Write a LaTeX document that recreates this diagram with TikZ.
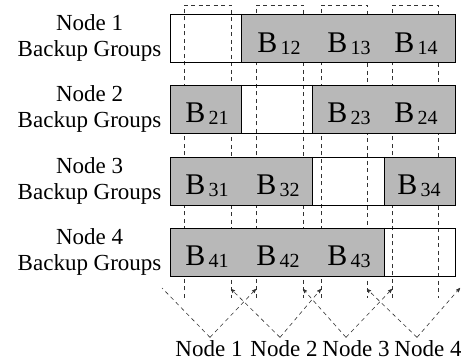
\documentclass[tikz,border=0pt]{standalone}
\usepackage{fontspec}
\setmainfont{Liberation Serif}
\usetikzlibrary{arrows,positioning}

\begin{document}
\begin{tikzpicture}[x=1pt,y=-1pt,>=stealth',
  grp/.style={draw=black, line width=0.8pt, fill=black!28},
  bar/.style={draw=black, line width=0.8pt},
  lane/.style={dash pattern=on 4pt off 3.5pt, black!80, line width=0.6pt},
  link/.style={->, dash pattern=on 4pt off 3.5pt, black!80, line width=0.6pt},
  lbl/.style={align=center, font=\fontsize{23}{26}\selectfont},
  blk/.style={anchor=base, inner sep=0pt, font=\fontsize{30}{30}\selectfont}]
\useasboundingbox (0,0) rectangle (461,363);

% dashed lanes, one per node
\draw[lane] (184,298) -- (184,5) -- (231,5) -- (231,298);
\draw[lane] (256,298) -- (256,5) -- (303,5) -- (303,298);
\draw[lane] (321,298) -- (321,5) -- (367,5) -- (367,298);
\draw[lane] (392,298) -- (392,5) -- (438,5) -- (438,298);
\coordinate (r1) at (231,289);
\coordinate (l2) at (256,289);
\coordinate (r2) at (303,289);
\coordinate (l3) at (321,289);
\coordinate (r3) at (367,289);
\coordinate (l4) at (392,289);
\coordinate (w1) at (162,288);
\coordinate (e4) at (460,288);

% backup group bars
\fill[grp] (241,14) rectangle (455,62);
\draw[bar] (170,14) rectangle (455,62);
\fill[grp] (170,85) rectangle (241,133);
\fill[grp] (312,85) rectangle (455,133);
\draw[bar] (170,85) rectangle (455,133);
\fill[grp] (170,157) rectangle (312,205);
\fill[grp] (384,157) rectangle (455,205);
\draw[bar] (170,157) rectangle (455,205);
\fill[grp] (170,228) rectangle (384,276);
\draw[bar] (170,228) rectangle (455,276);
\draw[bar] (241,14) -- (241,62);
\draw[bar] (241,85) -- (241,133) (312,85) -- (312,133);
\draw[bar] (312,157) -- (312,205) (384,157) -- (384,205);
\draw[bar] (384,228) -- (384,276);

\newcommand{\bk}[1]{B\raisebox{-2pt}{\fontsize{20}{20}\selectfont\,#1}}
\node[blk] (b12) at (279,53) {\bk{12}};
\node[blk] (b13) at (349,53) {\bk{13}};
\node[blk] (b14) at (416,53) {\bk{14}};
\node[blk] (b21) at (207,123) {\bk{21}};
\node[blk] (b23) at (349,123) {\bk{23}};
\node[blk] (b24) at (416,123) {\bk{24}};
\node[blk] (b31) at (207,195) {\bk{31}};
\node[blk] (b32) at (278,195) {\bk{32}};
\node[blk] (b34) at (419,195) {\bk{34}};
\node[blk] (b41) at (207,266) {\bk{41}};
\node[blk] (b42) at (278,266) {\bk{42}};
\node[blk] (b43) at (349,266) {\bk{43}};

\node[lbl, anchor=east] (g1) at (165,38) {Node 1\\Backup Groups};
\node[lbl, anchor=east] (g2) at (165,109) {Node 2\\Backup Groups};
\node[lbl, anchor=east] (g3) at (165,181) {Node 3\\Backup Groups};
\node[lbl, anchor=east] (g4) at (165,252) {Node 4\\Backup Groups};

\node[lbl] (n1) at (209,349) {Node 1};
\node[lbl] (n2) at (284,349) {Node 2};
\node[lbl] (n3) at (356,349) {Node 3};
\node[lbl] (n4) at (428,349) {Node 4};
\coordinate (a1) at ([xshift=1pt]n1.north);
\coordinate (a2) at ([xshift=-4pt]n2.north);
\coordinate (a3) at ([xshift=-10pt]n3.north);
\coordinate (a4) at ([xshift=-11pt]n4.north);

\draw[link, -] (a1) -- (w1);
\draw[link] (a1) -- (l2);
\draw[link] (a2) -- (r1);
\draw[link] (a2) -- (l3);
\draw[link] (a3) -- (r2);
\draw[link] (a3) -- (l4);
\draw[link] (a4) -- (r3);
\draw[link] (a4) -- (e4);
\end{tikzpicture}
\end{document}
